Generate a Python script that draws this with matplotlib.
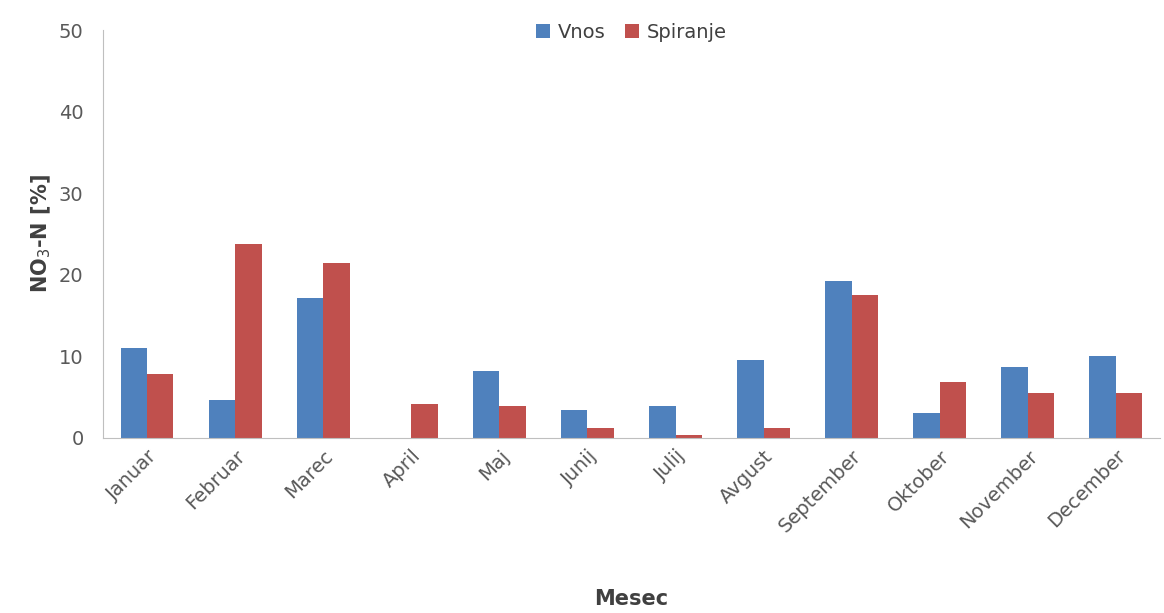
import matplotlib.pyplot as plt
import numpy as np

months = ["Januar","Februar","Marec","April","Maj","Junij","Julij","Avgust","September","Oktober","November","December"]
vnos = [11.0, 4.7, 17.1, 0.0, 8.2, 3.4, 3.9, 9.6, 19.3, 3.1, 8.7, 10.1]
spiranje = [7.8, 23.8, 21.4, 4.2, 3.9, 1.2, 0.4, 1.2, 17.5, 6.9, 5.5, 5.5]

fig = plt.figure(figsize=(11.64, 6.13), dpi=100)
ax = fig.add_axes([0.0885, 0.2855, 0.908, 0.6655])
x = np.arange(len(months))
w = 0.3
ax.bar(x - w/2, vnos, w, color="#4F81BD", label="Vnos")
ax.bar(x + w/2, spiranje, w, color="#C0504D", label="Spiranje")
ax.set_xlim(-0.5, len(months) - 0.5)
ax.set_ylim(0, 50)
ax.set_yticks(range(0, 51, 10))
ax.set_xticks(x)
ax.set_xticklabels(months, rotation=45, ha="right", rotation_mode="anchor", fontsize=14, color="#595959")
ax.tick_params(axis="y", labelsize=14, labelcolor="#595959", length=0, pad=14)
ax.tick_params(axis="x", length=0, pad=6)
for s in ["top", "right"]:
    ax.spines[s].set_visible(False)
ax.spines["left"].set_color("#BFBFBF")
ax.spines["bottom"].set_color("#BFBFBF")
ax.set_ylabel("NO$_3$-N [%]", fontsize=15, fontweight="bold", color="#404040")
ax.set_xlabel("Mesec", fontsize=15, fontweight="bold", color="#404040", labelpad=38)
ax.legend(loc="upper center", bbox_to_anchor=(0.5, 1.06), ncol=2, frameon=False,
          fontsize=14, handlelength=0.7, handleheight=0.7, columnspacing=1.0, handletextpad=0.4,
          labelcolor="#404040")
fig.savefig("out.png", dpi=100)
